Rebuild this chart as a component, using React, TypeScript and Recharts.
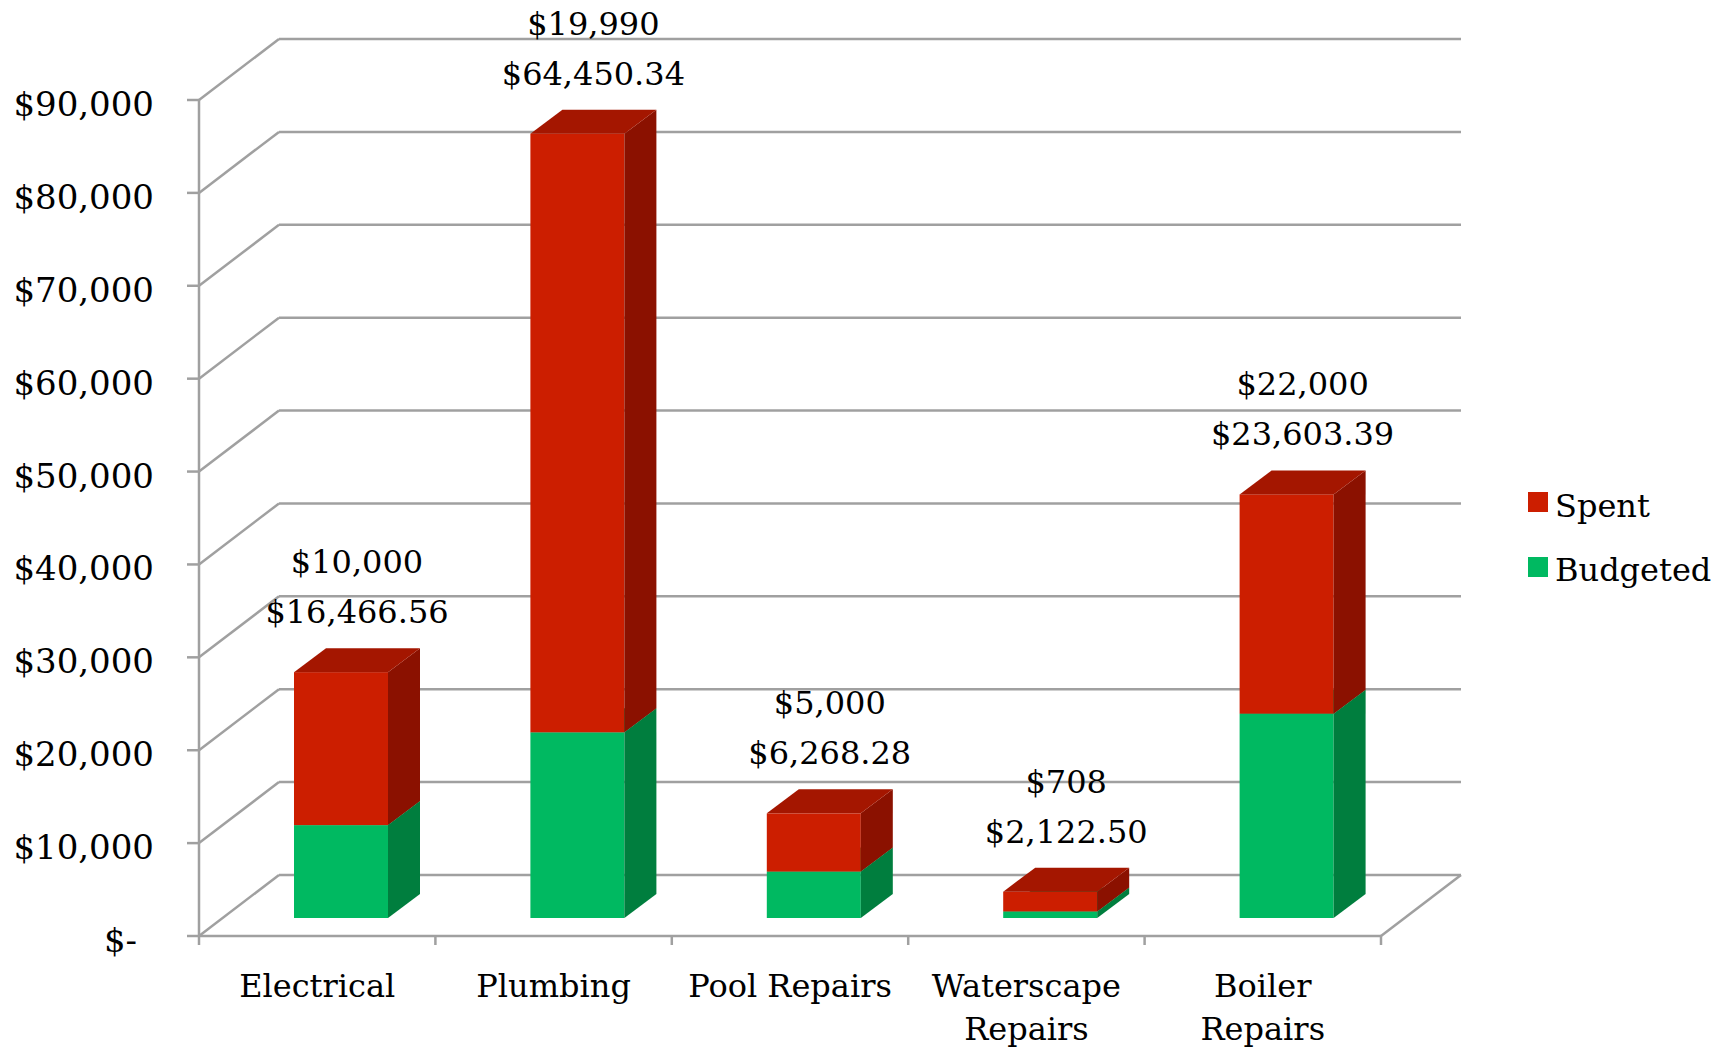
import React from 'react';
import { Bar, BarChart, CartesianGrid, Customized, XAxis, YAxis } from 'recharts';

const categories = ['Electrical', 'Plumbing', 'Pool Repairs', 'Waterscape Repairs', 'Boiler Repairs'];
const budgeted = [10000, 19990, 5000, 708, 22000];
const spent = [16466.56, 64450.34, 6268.28, 2122.5, 23603.39];
const yTicks = [0, 10000, 20000, 30000, 40000, 50000, 60000, 70000, 80000, 90000];

const chartData = categories.map((name, i) => ({ name, budgeted: budgeted[i], spent: spent[i] }));

// layout
const W = 1726;
const H = 1047;
const PLOT_LEFT = 199;
const PLOT_RIGHT = 1381;
const PLOT_TOP = 100;
const PLOT_BOTTOM = 936;
const Y_AXIS_W = 150;
const X_AXIS_H = 90;
const WALL_DX = 80; // back wall offset
const WALL_DY = 61;
const BAR_SHIFT_X = 24; // bar front face sits a bit inside the floor
const BAR_SHIFT_Y = 18;
const BAR_DX = 32; // bar depth
const BAR_DY = 24;

const FONT = '"DejaVu Serif", serif';
const GRID = '#A0A0A0';
const GRID_W = 2.5;

const RED = { front: '#CC1E00', top: '#A41600', side: '#8B1100' };
const GREEN = { front: '#00B961', top: '#009A50', side: '#007E3E' };

const money = (v: number, decimals: number) =>
  '$' + v.toLocaleString('en-US', { minimumFractionDigits: decimals, maximumFractionDigits: decimals });

function Box3D(props: any) {
  const { x, y, width, height, colors, withLabels, payload } = props;
  if (width == null || height == null) return null;
  const fx = x + BAR_SHIFT_X;
  const fy = y - BAR_SHIFT_Y;
  const w = width;
  const h = height;
  const top = `${fx},${fy} ${fx + BAR_DX},${fy - BAR_DY} ${fx + w + BAR_DX},${fy - BAR_DY} ${fx + w},${fy}`;
  const side = `${fx + w},${fy} ${fx + w + BAR_DX},${fy - BAR_DY} ${fx + w + BAR_DX},${fy + h - BAR_DY} ${fx + w},${fy + h}`;
  const cx = fx + w / 2 + BAR_DX / 2;
  return (
    <g>
      <rect x={fx} y={fy} width={w} height={h} fill={colors.front} />
      <polygon points={side} fill={colors.side} />
      <polygon points={top} fill={colors.top} />
      {withLabels && (
        <g fontFamily={FONT} fontSize={32} fill="#000" textAnchor="middle">
          <text x={cx} y={fy - 99}>{money(payload.budgeted, 0)}</text>
          <text x={cx} y={fy - 49}>{money(payload.spent, 2)}</text>
        </g>
      )}
    </g>
  );
}

function GridLine(props: any) {
  const { x1, x2, y1 } = props;
  const isFloor = Math.abs(y1 - PLOT_BOTTOM) < 2;
  return (
    <g key={`grid-${y1}`} stroke={GRID} strokeWidth={GRID_W} fill="none">
      <line x1={x1} y1={y1} x2={x1 + WALL_DX} y2={y1 - WALL_DY} />
      <line x1={x1 + WALL_DX} y1={y1 - WALL_DY} x2={x2 + WALL_DX} y2={y1 - WALL_DY} />
      {isFloor && <line x1={x2} y1={y1} x2={x2 + WALL_DX} y2={y1 - WALL_DY} />}
    </g>
  );
}

function YTick(props: any) {
  const { x, y, payload } = props;
  const v = payload.value as number;
  const label = v === 0 ? '$-' : money(v, 0);
  return (
    <text x={v === 0 ? x - 17 : x} y={y + 16} textAnchor="end" fontFamily={FONT} fontSize={34} fill="#000">
      {label}
    </text>
  );
}

function XTick(props: any) {
  const { x, payload, index } = props;
  const name = payload.value as string;
  const lines = name.length > 12 ? name.split(' ') : [name];
  const band = (PLOT_RIGHT - PLOT_LEFT) / categories.length;
  return (
    <g>
      <line x1={x - band / 2} y1={PLOT_BOTTOM} x2={x - band / 2} y2={PLOT_BOTTOM + 9} stroke={GRID} strokeWidth={GRID_W} />
      {index === categories.length - 1 && (
        <line x1={x + band / 2} y1={PLOT_BOTTOM} x2={x + band / 2} y2={PLOT_BOTTOM + 9} stroke={GRID} strokeWidth={GRID_W} />
      )}
      <text textAnchor="middle" fontFamily={FONT} fontSize={32} fill="#000">
        {lines.map((l, i) => (
          <tspan key={l} x={x} y={PLOT_BOTTOM + 61 + i * 43}>
            {l}
          </tspan>
        ))}
      </text>
    </g>
  );
}

function LegendBox() {
  const items = [
    { label: 'Spent', color: RED.front },
    { label: 'Budgeted', color: GREEN.front },
  ];
  return (
    <g fontFamily={FONT} fontSize={32} fill="#000">
      {items.map((it, i) => (
        <g key={it.label}>
          <rect x={1528} y={492 + i * 65} width={20} height={20} fill={it.color} />
          <text x={1555} y={517 + i * 64}>{it.label}</text>
        </g>
      ))}
    </g>
  );
}

export default function App() {
  return (
    <div style={{ position: 'absolute', left: 0, top: 0, width: W, height: H, background: '#fff' }}>
      <BarChart
        width={W}
        height={H}
        data={chartData}
        barSize={94}
        margin={{ top: PLOT_TOP, right: W - PLOT_RIGHT, bottom: H - PLOT_BOTTOM - X_AXIS_H, left: PLOT_LEFT - Y_AXIS_W }}
      >
        <CartesianGrid vertical={false} horizontal={(p: any) => <GridLine {...p} />} />
        <XAxis
          dataKey="name"
          height={X_AXIS_H}
          tickLine={false}
          axisLine={{ stroke: GRID, strokeWidth: GRID_W }}
          tick={<XTick />}
          interval={0}
        />
        <YAxis
          width={Y_AXIS_W}
          domain={[0, 90000]}
          ticks={yTicks}
          interval={0}
          tickSize={12}
          tickMargin={33}
          tickLine={{ stroke: GRID, strokeWidth: GRID_W }}
          axisLine={{ stroke: GRID, strokeWidth: GRID_W }}
          tick={<YTick />}
        />
        <Bar
          dataKey="budgeted"
          stackId="a"
          isAnimationActive={false}
          shape={(p: any) => <Box3D {...p} colors={GREEN} />}
        />
        <Bar
          dataKey="spent"
          stackId="a"
          isAnimationActive={false}
          shape={(p: any) => <Box3D {...p} colors={RED} withLabels />}
        />
        <Customized component={LegendBox} />
      </BarChart>
    </div>
  );
}
